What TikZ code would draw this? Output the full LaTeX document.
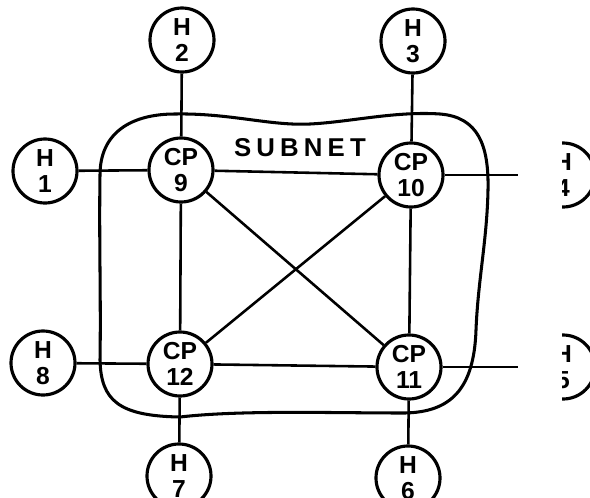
\documentclass[tikz,border=0pt]{standalone}
\usepackage{fontspec}
\usepackage{tikz}
\newfontfamily\netfont{Liberation Sans}
\newfontfamily\subnetfont[LetterSpace=20]{Liberation Sans}
\tikzset{
  host/.style   = {draw, circle, line width=2.7pt, minimum size=1.92cm, inner sep=0pt, align=center, font=\netfont\bfseries\fontsize{21}{22}\selectfont},
  cpnode/.style = {host},
  link/.style   = {line width=2.2pt},
  blob/.style   = {line width=2.6pt},
}

\begin{document}
\begin{tikzpicture}[x=0.03cm, y=-0.03cm]
  \clip (0,0) rectangle (590,497);
  \draw[blob] (100,175) .. controls (100,132) and (132,114) .. (175,114)
    .. controls (230,113) and (270,126) .. (310,124)
    .. controls (350,122) and (395,111) .. (440,114)
    .. controls (478,117) and (489,145) .. (488,190)
    .. controls (487,240) and (478,280) .. (476,330)
    .. controls (474,390) and (450,412) .. (405,413)
    .. controls (330,413) and (240,410) .. (180,417)
    .. controls (118,416) and (101,400) .. (100,360)
    .. controls (101,300) and (99,240) .. (100,175) -- cycle;
  \node[font=\subnetfont\bfseries\fontsize{22}{24}\selectfont] (subnet) at (300,148) {SUBNET};

  \node[cpnode] (cp9)  at (181,170) {CP\\9};
  \node[cpnode] (cp10) at (411,175) {CP\\10};
  \node[cpnode] (cp11) at (409,367) {CP\\11};
  \node[cpnode] (cp12) at (180,364) {CP\\12};

  \node[host] (h1) at (45,171)  {H\\1};
  \node[host] (h2) at (182,40)  {H\\2};
  \node[host] (h3) at (413,41)  {H\\3};
  \node[host] (h4) at (563,175) {H\\4};
  \node[host] (h5) at (563,367) {H\\5};
  \node[host] (h6) at (408,478) {H\\6};
  \node[host] (h7) at (179,476) {H\\7};
  \node[host] (h8) at (43,363)  {H\\8};

  \draw[link] (cp9) -- (cp10);
  \draw[link] (cp9) -- (cp12);
  \draw[link] (cp9) -- (cp11);
  \draw[link] (cp10) -- (cp12);
  \draw[link] (cp10) -- (cp11);
  \draw[link] (cp12) -- (cp11);

  \draw[link] (h1) -- (cp9);
  \draw[link] (h2) -- (cp9);
  \draw[link] (h3) -- (cp10);
  \draw[link] (h4) -- (cp10);
  \draw[link] (h5) -- (cp11);
  \draw[link] (h6) -- (cp11);
  \draw[link] (h7) -- (cp12);
  \draw[link] (h8) -- (cp12);

  \fill[white] (518,0) rectangle (562,497);
\end{tikzpicture}
\end{document}
